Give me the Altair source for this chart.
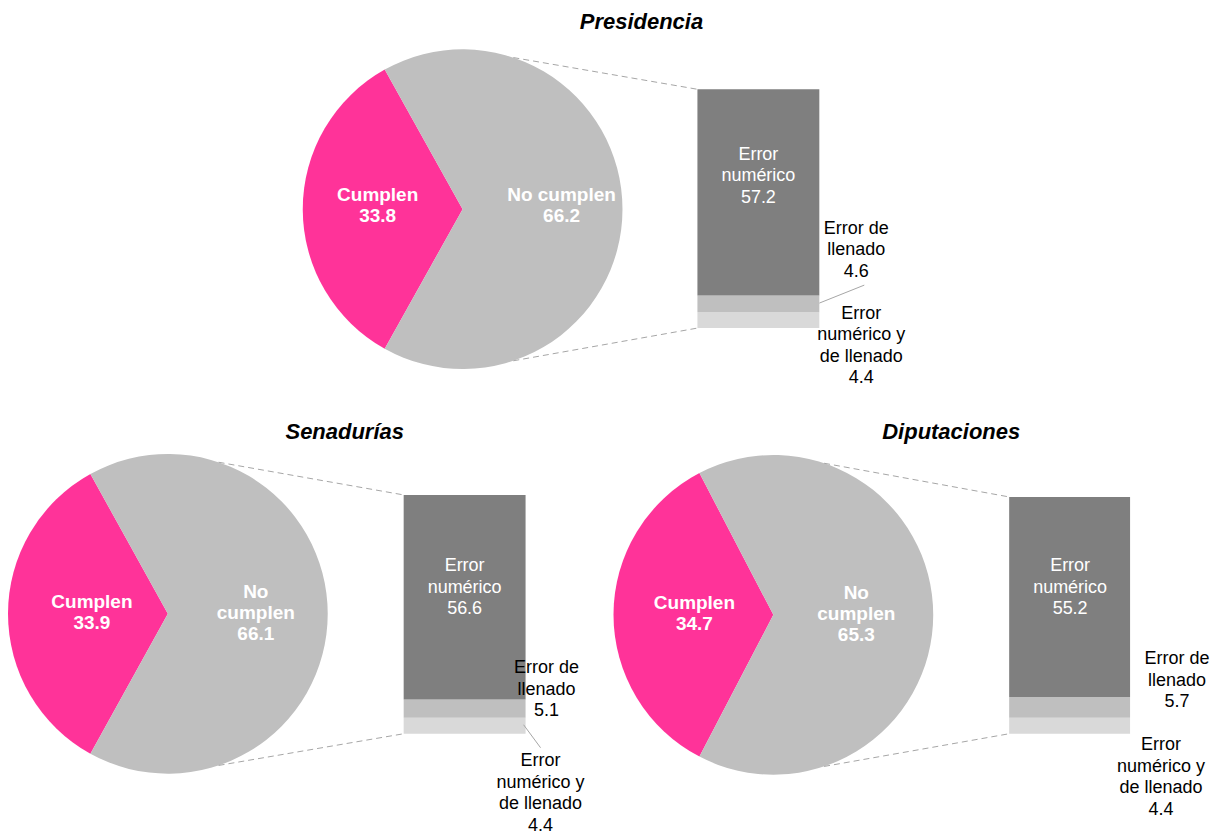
import math
import altair as alt
import pandas as pd

# ---------------- data ----------------
panels = ["Presidencia", "Senadurías", "Diputaciones"]
pie_cats = ["Cumplen", "No cumplen"]
cumplen = [33.8, 33.9, 34.7]
no_cumplen = [66.2, 66.1, 65.3]
bar_cats = ["Error numérico y de llenado", "Error de llenado", "Error numérico"]  # bottom -> top
err_ambos = [4.4, 4.4, 4.4]
err_llenado = [4.6, 5.1, 5.7]
err_numerico = [57.2, 56.6, 55.2]
bar_label_names = ["Error\nnumérico y\nde llenado", "Error de\nllenado", "Error\nnumérico"]

# ---------------- style / layout ----------------
FONT = "Liberation Sans"
PINK, PIE_GRAY = "#FF3399", "#BFBFBF"
BAR_COLORS = ["#D9D9D9", "#BFBFBF", "#7F7F7F"]
DASH_COLOR = "#A6A6A6"
O = 8  # page margin

layout = [
    dict(title=(642, 22), c=(463, 209), r=160, bar=(698, 820, 89, 328),
         pie_names=["Cumplen", "No cumplen"], lab_r=[85, 99], lab_dy=-4,
         in_lab=(759, 176), llen_lab=(857, 250), amb_lab=(862, 346),
         leader=[(820, 303, 865, 285)]),
    dict(title=(345, 432), c=(168, 614), r=160, bar=(404, 526, 495, 734),
         pie_names=["Cumplen", "No\ncumplen"], lab_r=[76, 88], lab_dy=-1,
         in_lab=(465, 588), llen_lab=(547, 690), amb_lab=(541, 794),
         leader=[(524, 725, 541, 748)]),
    dict(title=(952, 432), c=(774, 615), r=160, bar=(1010, 1131, 497, 734),
         pie_names=["Cumplen", "No\ncumplen"], lab_r=[79, 83], lab_dy=-1,
         in_lab=(1071, 588), llen_lab=(1178, 681), amb_lab=(1162, 778),
         leader=[]),
]

color_scale = alt.Scale(domain=pie_cats + bar_cats, range=[PINK, PIE_GRAY] + BAR_COLORS)


def label(text, x, y, color="black", size=18, weight="normal", style="normal", lh=21.5):
    n = text.count("\n")
    return alt.Chart(pd.DataFrame({"t": [text]})).mark_text(
        font=FONT, fontSize=size, fontWeight=weight, fontStyle=style, color=color,
        lineBreak="\n", lineHeight=lh, align="center", baseline="middle"
    ).encode(x=alt.value(x - O), y=alt.value(y - O - n * lh / 2), text="t:N")


def seg(x1, y1, x2, y2, dash=None):
    kw = dict(color=DASH_COLOR, strokeWidth=1)
    if dash:
        kw["strokeDash"] = dash
    return alt.Chart(pd.DataFrame({"k": [0]})).mark_rule(**kw).encode(
        x=alt.value(x1 - O), y=alt.value(y1 - O), x2=alt.value(x2 - O), y2=alt.value(y2 - O))


panel_charts = []
for i, name in enumerate(panels):
    L = layout[i]
    cx, cy = L["c"]
    r = L["r"]
    pie_vals = [cumplen[i], no_cumplen[i]]
    pie_df = pd.DataFrame({
        "cat": pie_cats,
        "val": pie_vals,
        "idx": [0, 1],
        "txt": [f"{L['pie_names'][k]}\n{pie_vals[k]:.1f}" for k in range(2)],
    })
    start = math.radians(270 - cumplen[i] * 1.8)
    theta_scale = alt.Scale(domain=[0, 100], range=[start, start + 2 * math.pi])
    pie = alt.Chart(pie_df).mark_arc(radius=r).encode(
        theta=alt.Theta("val:Q", stack=True, scale=theta_scale),
        color=alt.Color("cat:N", scale=color_scale, legend=None),
        order=alt.Order("idx:Q"),
        x=alt.value(cx - O), y=alt.value(cy - O),
    )
    layers = [pie]
    PLH = 21
    for k in range(2):
        nlines = pie_df["txt"][k].count("\n")
        layers.append(
            alt.Chart(pie_df).transform_stack(
                stack="val", as_=["s0", "s1"], groupby=[],
                sort=[alt.SortField("idx", order="ascending")]
            ).transform_calculate(
                mid="(datum.s0 + datum.s1) / 2"
            ).transform_filter(
                alt.datum.idx == k
            ).mark_text(
                radius=L["lab_r"][k], font=FONT, fontSize=19, fontWeight="bold", color="white",
                lineBreak="\n", lineHeight=PLH, align="center", baseline="middle",
                dy=L["lab_dy"] - nlines * PLH / 2
            ).encode(
                theta=alt.Theta("mid:Q", stack=None, scale=theta_scale),
                text="txt:N",
                x=alt.value(cx - O), y=alt.value(cy - O),
            )
        )

    bx1, bx2, btop, bbot = L["bar"]
    vals = [err_ambos[i], err_llenado[i], err_numerico[i]]
    total = sum(vals)
    bar_df = pd.DataFrame({"cat": bar_cats, "val": vals, "idx": [0, 1, 2]})
    bar = alt.Chart(bar_df).transform_stack(
        stack="val", as_=["v0", "v1"], groupby=[], sort=[alt.SortField("idx", order="ascending")]
    ).mark_rect(stroke=None).encode(
        y=alt.Y("v0:Q",
                scale=alt.Scale(domain=[0, total], range=[bbot - O, btop - O], nice=False, zero=True),
                axis=None),
        y2="v1:Q",
        color=alt.Color("cat:N", scale=color_scale, legend=None),
        x=alt.value(bx1 - O), x2=alt.value(bx2 - O),
    )

    # series (dashed) lines from pie to bar
    a_top, a_bot = math.radians(18.5), math.radians(161.5)
    tx, ty = cx + r * math.sin(a_top), cy - r * math.cos(a_top)
    bxp, byp = cx + r * math.sin(a_bot), cy - r * math.cos(a_bot)
    layers += [
        bar,
        seg(tx, ty, bx1, btop, dash=[6, 4]),
        seg(bxp, byp, bx1, bbot, dash=[6, 4]),
        label(name, *L["title"], size=22, weight="bold", style="italic"),
        label(f"{bar_label_names[2]}\n{err_numerico[i]:.1f}", *L["in_lab"], color="white"),
        label(f"{bar_label_names[1]}\n{err_llenado[i]:.1f}", *L["llen_lab"]),
        label(f"{bar_label_names[0]}\n{err_ambos[i]:.1f}", *L["amb_lab"]),
    ]
    for (x1, y1, x2, y2) in L["leader"]:
        layers.append(seg(x1, y1, x2, y2))
    panel_charts.append(alt.layer(*layers))

chart = alt.layer(*panel_charts).resolve_scale(
    theta="independent", y="independent"
).properties(
    width=1202, height=818, padding=0
).configure_view(stroke=None)

chart.save("out.html", embed_options={"renderer": "svg", "actions": False})
